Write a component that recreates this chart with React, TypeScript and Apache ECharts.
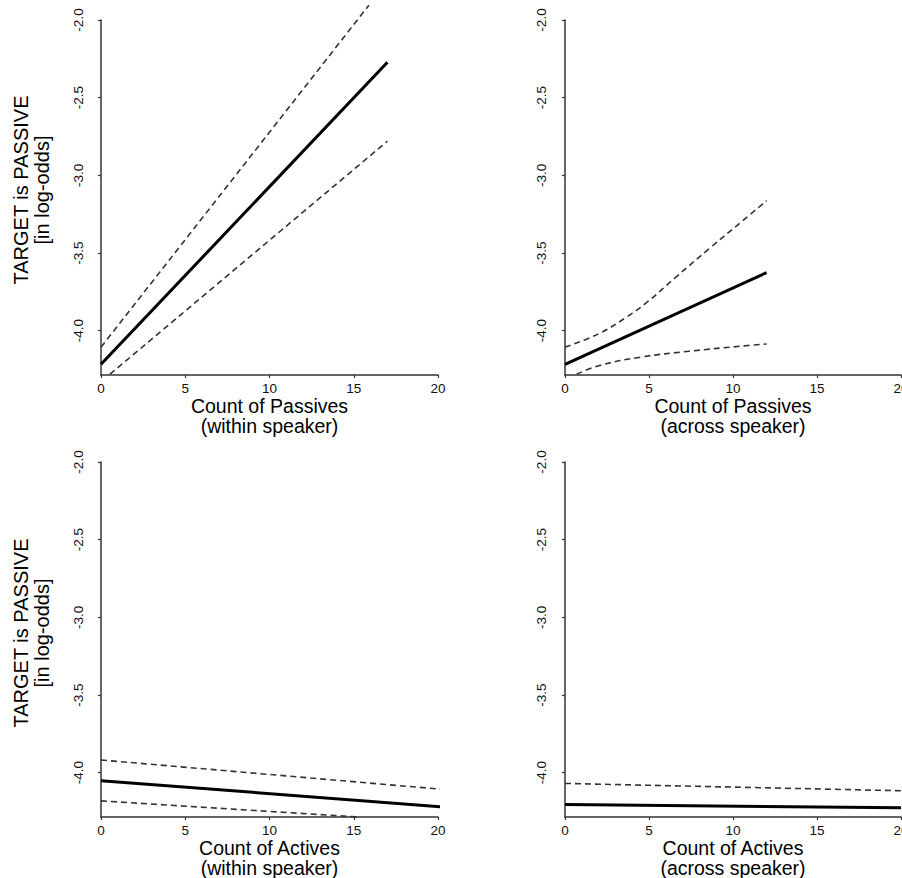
import React, { useEffect, useRef } from "react";
import * as echarts from "echarts";

// ---- data ----
const xTicks = [0, 5, 10, 15, 20];
const yTicks = [-4.0, -3.5, -3.0, -2.5, -2.0];

// Panel 1: Count of Passives (within speaker)
const passWithinX = [0, 17];
const passWithinFit = [-4.216, -2.272];
const passWithinUpX = [0, 15.9];
const passWithinUp = [-4.106, -1.905];
const passWithinLoX = [0.53, 17];
const passWithinLo = [-4.28, -2.78];

// Panel 2: Count of Passives (across speaker)
const passAcrossX = [0, 12];
const passAcrossFit = [-4.216, -3.626];
const passAcrossUpX = [0, 2, 3.7, 4.9, 6.6, 8.6, 10.6, 12];
const passAcrossUp = [-4.106, -4.02, -3.91, -3.815, -3.655, -3.47, -3.29, -3.163];
const passAcrossLoX = [0.7, 2, 4.5, 7.4, 10.4, 12];
const passAcrossLo = [-4.28, -4.225, -4.17, -4.132, -4.1, -4.085];

// Panel 3: Count of Actives (within speaker)
const actWithinX = [0, 20.8];
const actWithinFit = [-4.052, -4.224];
const actWithinUp = [-3.918, -4.112];
const actWithinLoX = [0, 15.3];
const actWithinLo = [-4.181, -4.285];

// Panel 4: Count of Actives (across speaker)
const actAcrossX = [0, 20];
const actAcrossFit = [-4.205, -4.226];
const actAcrossUp = [-4.069, -4.116];

const xTitles = [
  "Count of Passives\n(within speaker)",
  "Count of Passives\n(across speaker)",
  "Count of Actives\n(within speaker)",
  "Count of Actives\n(across speaker)",
];
const yTitle = "TARGET is PASSIVE\n[in log-odds]";

const FONT = '"Liberation Sans", Arial, Helvetica, sans-serif';
const Y_MIN = -4.285;
const Y_MAX = -2.0;

const pts = (xs: number[], ys: number[]) => xs.map((x, i) => [x, ys[i]]);

export default function App() {
  const ref = useRef<HTMLDivElement>(null);

  useEffect(() => {
    if (!ref.current) return;
    const chart = echarts.init(ref.current, null, { renderer: "svg" });

    const grids = [
      { left: 101, top: 20, width: 337, height: 355, outerBoundsMode: "none" },
      { left: 565, top: 20, width: 336, height: 355, outerBoundsMode: "none" },
      { left: 101, top: 462, width: 337, height: 355, outerBoundsMode: "none" },
      { left: 565, top: 462, width: 336, height: 355, outerBoundsMode: "none" },
    ];
    const yOffsets = [12, 13, 12, 13];

    const axisColor = "#333";

    const xAxes = grids.map((_, i) => ({
      type: "value",
      gridIndex: i,
      min: 0,
      max: 20,
      interval: 5,
      axisLine: { show: true, lineStyle: { color: axisColor, width: 1.5 } },
      axisTick: { show: true, length: 3, lineStyle: { color: axisColor, width: 1.2 } },
      axisLabel: {
        customValues: xTicks,
        fontSize: 13.5,
        color: "#111",
        margin: 6,
        fontFamily: FONT,
      },
      splitLine: { show: false },
      name: xTitles[i],
      nameLocation: "middle",
      nameGap: 17,
      nameTextStyle: {
        fontSize: 19.5,
        lineHeight: 20,
        color: "#000",
        fontFamily: FONT,
        verticalAlign: "top",
      },
    }));

    const yAxes = grids.map((_, i) => ({
      type: "value",
      gridIndex: i,
      min: Y_MIN,
      max: Y_MAX,
      offset: yOffsets[i],
      axisLine: { show: true, lineStyle: { color: axisColor, width: 1.5 } },
      axisTick: {
        show: true,
        length: 3,
        customValues: yTicks,
        lineStyle: { color: axisColor, width: 1.2 },
      },
      axisLabel: {
        customValues: yTicks,
        rotate: 90,
        fontSize: 13.5,
        color: "#111",
        margin: 4,
        fontFamily: FONT,
        formatter: (v: number) => v.toFixed(1),
      },
      splitLine: { show: false },
    }));

    const solid = (data: number[][], i: number) => ({
      type: "line",
      xAxisIndex: i,
      yAxisIndex: i,
      data,
      symbol: "none",
      clip: false,
      silent: true,
      lineStyle: { color: "#000", width: 3 },
    });
    const dashed = (data: number[][], i: number, smooth = false) => ({
      type: "line",
      xAxisIndex: i,
      yAxisIndex: i,
      data,
      symbol: "none",
      clip: false,
      silent: true,
      smooth: smooth ? 0.4 : false,
      lineStyle: { color: "#333", width: 1.6, type: [6, 4] },
    });

    const series = [
      solid(pts(passWithinX, passWithinFit), 0),
      dashed(pts(passWithinUpX, passWithinUp), 0),
      dashed(pts(passWithinLoX, passWithinLo), 0),
      solid(pts(passAcrossX, passAcrossFit), 1),
      dashed(pts(passAcrossUpX, passAcrossUp), 1, true),
      dashed(pts(passAcrossLoX, passAcrossLo), 1, true),
      solid(pts(actWithinX, actWithinFit), 2),
      dashed(pts(actWithinX, actWithinUp), 2),
      dashed(pts(actWithinLoX, actWithinLo), 2),
      solid(pts(actAcrossX, actAcrossFit), 3),
      dashed(pts(actAcrossX, actAcrossUp), 3),
    ];

    const yTitleEl = (cy: number) => ({
      type: "text",
      x: 31,
      y: cy,
      rotation: Math.PI / 2,
      silent: true,
      style: {
        text: yTitle,
        fontSize: 20,
        fontFamily: FONT,
        lineHeight: 21,
        fill: "#000",
        align: "center",
        verticalAlign: "middle",
        textAlign: "center",
        textVerticalAlign: "middle",
      },
    });

    chart.setOption({
      animation: false,
      backgroundColor: "#fff",
      grid: grids,
      xAxis: xAxes,
      yAxis: yAxes,
      series,
      graphic: [yTitleEl(190), yTitleEl(633)],
    });

    return () => chart.dispose();
  }, []);

  return (
    <div
      ref={ref}
      style={{ position: "absolute", left: 0, top: 0, width: 902, height: 878 }}
    />
  );
}
